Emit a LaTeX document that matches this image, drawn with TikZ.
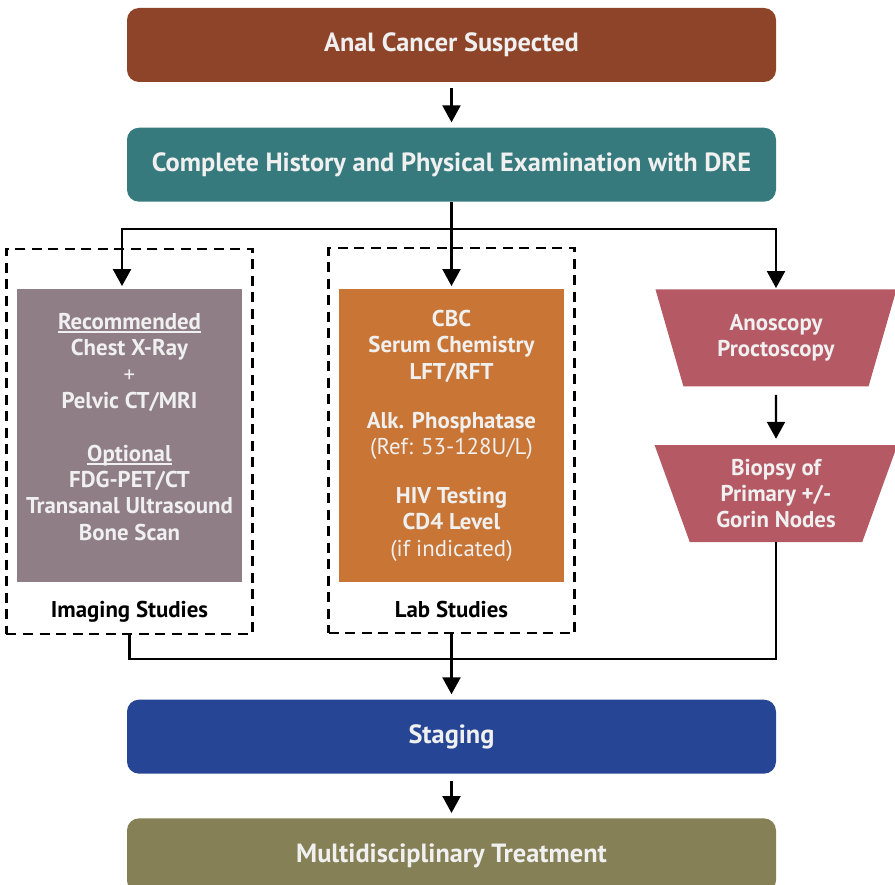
\documentclass[tikz,border=0pt]{standalone}
\usepackage{fontspec}
\setmainfont{PT Sans}
\usepackage{tikz}
\usetikzlibrary{arrows.meta, positioning, shapes.geometric}
\definecolor{suspect}{RGB}{142,68,40}
\definecolor{history}{RGB}{55,122,125}
\definecolor{imaging}{RGB}{143,126,133}
\definecolor{labs}{RGB}{200,117,54}
\definecolor{scope}{RGB}{181,90,101}
\definecolor{staging}{RGB}{38,69,148}
\definecolor{treat}{RGB}{133,128,86}
\definecolor{boxtext}{RGB}{240,240,240}
\tikzset{
  stagebox/.style = {rectangle, rounded corners=0.24cm, minimum width=12.98cm, minimum height=1.48cm, align=center, text=boxtext, font=\fontsize{15}{18}\selectfont\bfseries},
  testbox/.style = {rectangle, minimum width=4.5cm, minimum height=5.85cm, align=center, text=boxtext, font=\fontsize{13}{15}\selectfont\bfseries},
  scopebox/.style = {trapezium, shape border rotate=180, trapezium angle=71.7, trapezium stretches=true, minimum width=4.86cm, minimum height=1.94cm, fill=scope, align=center, text=boxtext, font=\fontsize{13}{15}\selectfont\bfseries},
  frame/.style = {draw, dash pattern=on 0.2cm off 0.13cm, line width=1.3pt, minimum width=4.92cm, minimum height=7.7cm},
  tag/.style = {inner sep=0pt, font=\fontsize{13}{15}\selectfont\bfseries},
  line/.style = {line width=1.3pt},
  arrow/.style = {line, -{Triangle[width=0.36cm, length=0.34cm]}},
}
% heading inside a test box, with a thin rule close under the baseline
\newlength{\subheadwd}
\newcommand{\subhead}[1]{\settowidth{\subheadwd}{#1}\rlap{\rule[-2pt]{\subheadwd}{0.8pt}}#1}

\begin{document}
\begin{tikzpicture}
    \useasboundingbox (0,0) rectangle (17.9,-17.7);

    % Main column
    \node (suspect) [stagebox, fill=suspect] at (9.03,-0.9) {Anal Cancer Suspected};
    \node (history) [stagebox, fill=history, below=0.9cm of suspect] {Complete History and Physical Examination with DRE};

    % Work-up boxes
    \node (img) [testbox, fill=imaging, below=1.74cm of history, xshift=-6.44cm]
        {\subhead{Recommended}\\ Chest X-Ray\\ {\mdseries +}\\ Pelvic CT/MRI\\[0.53cm]
         \subhead{Optional}\\ FDG-PET/CT\\ Transanal Ultrasound\\ Bone Scan\\[-0.17cm] \mbox{}};
    \node (lab) [testbox, fill=labs, below=1.74cm of history]
        {CBC\\ Serum Chemistry\\ LFT/RFT\\[0.45cm]
         Alk. Phosphatase\\ {\mdseries (Ref: 53-128U/L)}\\[0.45cm]
         HIV Testing\\ CD4 Level\\ {\mdseries (if indicated)}};
    \node (anoscopy) [scopebox, below=1.74cm of history, xshift=6.49cm] {Anoscopy\\ Proctoscopy};
    \node (biopsy) [scopebox, below=1.16cm of anoscopy] {Biopsy of\\ Primary +/-\\ Gorin Nodes};

    \node (imgtag) [tag, below=0.38cm of img] {Imaging Studies};
    \node (labtag) [tag, below=0.38cm of lab] {Lab Studies};
    \node (imgframe) [frame, yshift=-0.11cm] at (img) {};
    \node (labframe) [frame, yshift=-0.1cm] at (lab) {};

    \node (staging) [stagebox, fill=staging, below=1.3cm of labframe] {Staging};
    \node (treat) [stagebox, fill=treat, below=0.88cm of staging] {Multidisciplinary Treatment};

    % Connectors
    \coordinate (split) at ([yshift=-0.54cm]history.south);
    \coordinate (join) at ([yshift=-0.5cm]labframe.south);

    \draw [arrow, shorten <=0.12cm, shorten >=0.1cm] (suspect) -- (history);
    \draw [line] (history.south) -- (split);
    \draw [arrow, shorten >=0.06cm] (split) -| ([xshift=-0.15cm]img.north);
    \draw [arrow, shorten >=0.06cm] (split) -- (lab.north);
    \draw [arrow, shorten >=0.02cm] (split) -| (anoscopy.north);
    \draw [arrow, shorten <=0.16cm, shorten >=0.12cm] (anoscopy) -- (biopsy);

    \draw [line] (imgframe.south) |- (join);
    \draw [line] (biopsy.south) |- (join);
    \draw [arrow, shorten >=0.1cm] (labframe.south) -- (staging);
    \draw [arrow, shorten <=0.14cm, shorten >=0.1cm] (staging) -- (treat);

\end{tikzpicture}
\end{document}
